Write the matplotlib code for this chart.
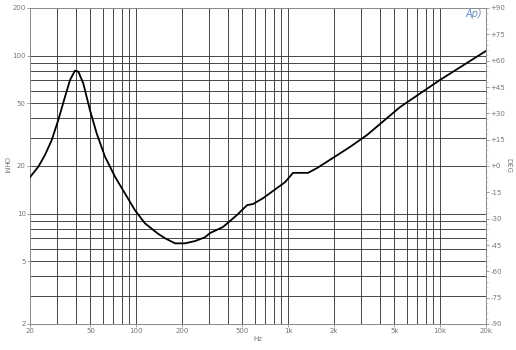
import matplotlib.pyplot as plt
import matplotlib.ticker as mticker

# impedance curve
freq_hz = [20, 22.7, 25.1, 27.8, 30.7, 34.0, 36.7, 39.5, 41.6, 44.8, 49.6, 54.9, 62.3, 72.5,
           84.3, 98.1, 114, 140, 155, 180, 209, 244, 283, 306, 372, 460, 536, 587, 682,
           843, 953, 1075, 1159, 1349, 1546, 1969, 2547, 3296, 5437, 9943, 20000]
impedance_ohm = [17.0, 19.8, 23.5, 29.2, 39.1, 54.9, 70.1, 80.2, 79.1, 66.8, 45.2, 32.2, 22.9, 17.1,
                 13.4, 10.5, 8.68, 7.42, 6.97, 6.48, 6.48, 6.70, 7.08, 7.53, 8.22, 9.79, 11.3, 11.5, 12.5,
                 14.5, 15.8, 18.1, 18.1, 18.1, 19.4, 22.5, 26.4, 31.4, 47.2, 70.0, 107]

x_ticks = [20, 50, 100, 200, 500, 1000, 2000, 5000, 10000, 20000]
x_labels = ['20', '50', '100', '200', '500', '1k', '2k', '5k', '10k', '20k']
y_ticks = [2, 5, 10, 20, 50, 100, 200]
deg_ticks = list(range(-90, 91, 15))

grid_col = '#3a3a3a'
txt_col = '#777777'

fig = plt.figure(figsize=(5.16, 3.5), dpi=100)
ax = fig.add_axes([30/516, 26/350, 456/516, 316/350])

ax.set_xscale('log')
ax.set_yscale('log')
ax.set_xlim(20, 20000)
ax.set_ylim(2, 200)

# grid lines at every 1..9 step of each decade
for dec in [10, 100, 1000, 10000]:
    for m in range(1, 10):
        f = dec * m
        if 20 < f < 20000:
            ax.axvline(f, color=grid_col, lw=0.65, zorder=1)
for dec in [1, 10, 100]:
    for m in range(1, 10):
        z = dec * m
        if 2 < z < 200:
            ax.axhline(z, color=grid_col, lw=0.65, zorder=1)

ax.plot(freq_hz, impedance_ohm, color='black', lw=1.3, zorder=3)

ax.xaxis.set_major_locator(mticker.FixedLocator(x_ticks))
ax.xaxis.set_major_formatter(mticker.FixedFormatter(x_labels))
ax.xaxis.set_minor_locator(mticker.NullLocator())
ax.yaxis.set_major_locator(mticker.FixedLocator(y_ticks))
ax.yaxis.set_major_formatter(mticker.FixedFormatter([str(v) for v in y_ticks]))
ax.yaxis.set_minor_locator(mticker.NullLocator())
ax.tick_params(labelsize=5, colors=txt_col, length=2, width=0.5, pad=1)
for s in ax.spines.values():
    s.set_color('#888888')
    s.set_linewidth(0.7)

ax2 = ax.twinx()
ax2.set_ylim(-90, 90)
ax2.set_yticks(deg_ticks)
ax2.set_yticklabels([('+%d' % d) if d >= 0 else str(d) for d in deg_ticks])
ax2.yaxis.set_minor_locator(mticker.MultipleLocator(3))
ax2.tick_params(labelsize=5, colors=txt_col, length=2, width=0.5, pad=1)
ax2.tick_params(which='minor', length=1.2, width=0.4, colors='#aaaaaa')
for s in ax2.spines.values():
    s.set_visible(False)

fig.text(258/516, 1 - 339/350, 'Hz', fontsize=5, color=txt_col, ha='center', va='center')
fig.text(6/516, 1 - 165/350, 'OHM', fontsize=5, color=txt_col, rotation=-90, ha='center', va='center')
fig.text(508/516, 1 - 165/350, 'DEG', fontsize=5, color=txt_col, rotation=-90, ha='center', va='center')
fig.text(474/516, 1 - 14/350, 'Ap)', fontsize=7, color='#5b8fc7', style='italic', ha='center', va='center')

fig.savefig('out.png', dpi=100)
